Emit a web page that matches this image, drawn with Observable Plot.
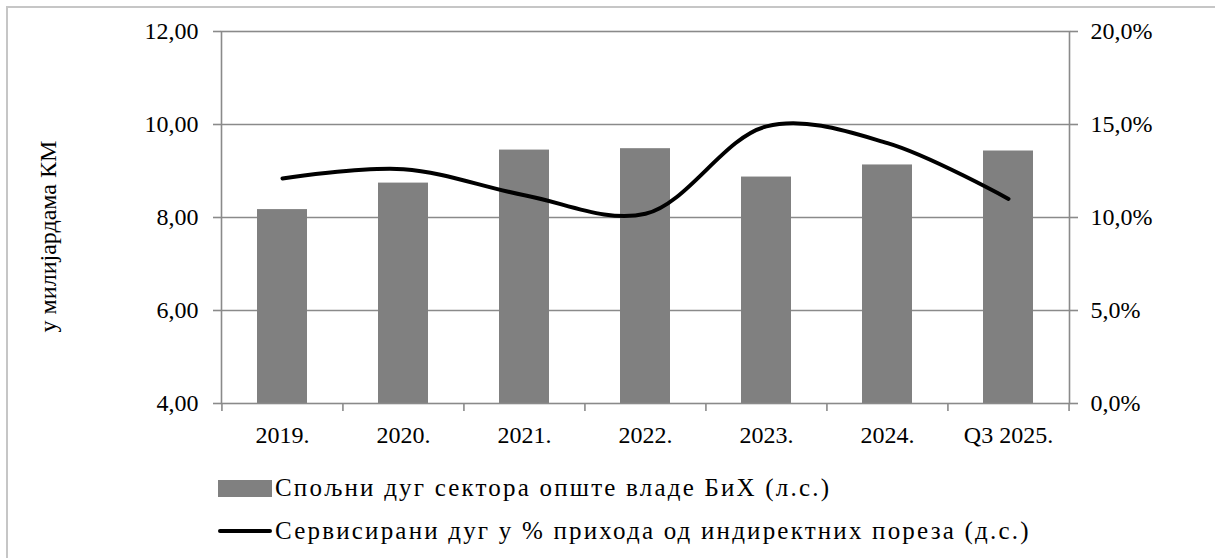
<!DOCTYPE html>
<html>
<head>
<meta charset="utf-8">
<script src="https://cdn.jsdelivr.net/npm/d3@7"></script>
<script src="https://cdn.jsdelivr.net/npm/@observablehq/plot@0.6"></script>
<style>
  html, body { margin: 0; padding: 0; background: #fff; }
  body { width: 1215px; height: 558px; position: relative; overflow: hidden; font-family: "Liberation Serif", Tinos, "Times New Roman", Times, "DejaVu Serif", serif; }
  #border { position: absolute; left: 6px; top: 6px; width: 1230px; height: 570px; border-left: 2px solid #c6c6c6; border-top: 2px solid #c6c6c6; }
  #chart { position: absolute; left: 0; top: 0; }
  .legend { position: absolute; left: 218px; font-size: 25px; letter-spacing: 2.2px; color: #000; display: flex; align-items: center; white-space: nowrap; }
  .legend .sw-bar { width: 54px; height: 17px; background: #808080; margin-right: 3px; }
  .legend .sw-line { width: 54px; height: 4px; background: #000; margin-right: 3px; border-radius: 2px; }
  #chart svg, #chart svg text { font-family: "Liberation Serif", Tinos, "Times New Roman", Times, "DejaVu Serif", serif !important; }
</style>
</head>
<body>
<div id="border"></div>
<div id="chart"></div>
<div class="legend" id="leg1" style="top:474px;"><span class="sw-bar"></span><span id="t1"></span></div>
<div class="legend" id="leg2" style="top:517px;"><span class="sw-line"></span><span id="t2"></span></div>
<script>
// ---- data ----
const categories = ["2019.", "2020.", "2021.", "2022.", "2023.", "2024.", "Q3 2025."];
const externalDebt = [8.17, 8.74, 9.45, 9.48, 8.87, 9.13, 9.43];      // bn KM (left axis)
const servicedDebtPct = [12.1, 12.6, 11.2, 10.2, 14.9, 14.0, 11.0];   // % (right axis)
const leftTicks = [4, 6, 8, 10, 12];
const rightTicks = [0, 5, 10, 15, 20];
const yLabel = "у милијардама КМ";
const seriesBarName = "Спољни дуг сектора опште владе БиХ (л.с.)";
const seriesLineName = "Сервисирани дуг у % прихода од индиректних пореза (д.с.)";

// ---- mapping right axis onto left scale ----
const lMin = leftTicks[0], lMax = leftTicks[leftTicks.length - 1];
const rMin = rightTicks[0], rMax = rightTicks[rightTicks.length - 1];
const toLeft = p => lMin + (p - rMin) * (lMax - lMin) / (rMax - rMin);
const toRight = v => rMin + (v - lMin) * (rMax - rMin) / (lMax - lMin);

const data = categories.map((c, i) => ({cat: c, debt: externalDebt[i], pct: servicedDebtPct[i]}));

const W = 1215, H = 460;
const mL = 221, mR = 146, mT = 31, mB = 57;
const step = (W - mL - mR) / categories.length;
const gray = "#8a8a8a";
const comma = s => s.replace(".", ",");

const chart = Plot.plot({
  width: W, height: H,
  marginLeft: mL, marginRight: mR, marginTop: mT, marginBottom: mB,
  style: {fontFamily: "'Liberation Serif', Tinos, 'Times New Roman', Times, 'DejaVu Serif', serif", fontSize: "24px", color: "#000", background: "transparent", overflow: "visible"},
  x: {domain: categories, paddingInner: 0.587, paddingOuter: 0.2935, label: null},
  y: {domain: [lMin, lMax], label: null},
  marks: [
    Plot.gridY({ticks: leftTicks.slice(1, -1), stroke: gray, strokeOpacity: 1, strokeWidth: 1.6}),
    Plot.barY(data, {x: "cat", y1: lMin, y2: "debt", fill: "#808080"}),
    Plot.frame({stroke: gray, strokeWidth: 1.6}),
    Plot.ruleX(categories, {x: d => d, y1: lMin, y2: lMin, insetBottom: -8, dx: -step / 2, stroke: gray, strokeWidth: 1.6}),
    Plot.ruleX(categories.slice(-1), {x: d => d, y1: lMin, y2: lMin, insetBottom: -8, dx: step / 2, stroke: gray, strokeWidth: 1.6}),
    Plot.axisY({anchor: "left", ticks: leftTicks, tickFormat: d => comma(d.toFixed(2)), tickSize: 8, tickPadding: 15, stroke: gray, strokeWidth: 1.6, label: null, fill: "#000"}),
    Plot.axisY({anchor: "right", ticks: leftTicks, tickFormat: d => comma(toRight(d).toFixed(1)) + "%", tickSize: 8, tickPadding: 13, stroke: gray, strokeWidth: 1.6, label: null, fill: "#000"}),
    Plot.axisX({anchor: "bottom", tickSize: 0, tickPadding: 22, label: null, fill: "#000"}),
    Plot.line(data, {x: "cat", y: d => toLeft(d.pct), curve: "catmull-rom", stroke: "#000", strokeWidth: 4, strokeLinecap: "round"}),
    Plot.text([yLabel], {frameAnchor: "left", text: d => d, rotate: -90, textAnchor: "middle", dx: -173, dy: 19, fill: "#000", fontSize: 24})
  ]
});
document.getElementById("chart").appendChild(chart);
document.getElementById("t1").textContent = seriesBarName;
document.getElementById("t2").textContent = seriesLineName;
</script>
</body>
</html>
